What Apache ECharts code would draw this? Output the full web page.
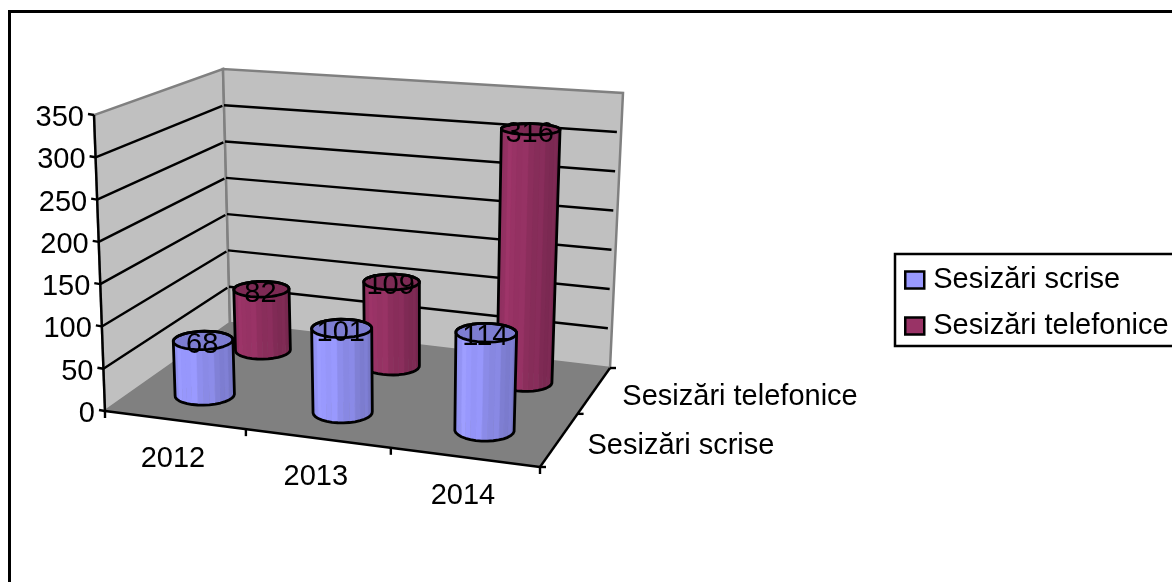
<!DOCTYPE html>
<html><head><meta charset="utf-8">
<style>html,body{margin:0;padding:0;background:#fff;overflow:hidden}#c{width:1172px;height:582px}</style>
<script src="https://cdn.jsdelivr.net/npm/echarts@6/dist/echarts.min.js"></script>
</head><body><div id="c"></div>
<script>
const categories = ['2012', '2013', '2014'];
const seriesNames = ['Sesizări scrise', 'Sesizări telefonice'];
const scrise = [68, 101, 114];
const telefonice = [82, 109, 316];
const valueTicks = [0, 50, 100, 150, 200, 250, 300, 350];

const FONT = '"Liberation Sans", Arial, sans-serif';
const FS = 29;
const G = {left: 105, top: 115, width: 435, height: 296};
// perspective box corners: floor and ceiling planes
const floorQ = [[105, 411], [540, 467], [610, 368], [230, 323]];
const topQ = [[94, 115], [551, 147], [623, 93], [223, 69]];

function homography(q) {
  const [p0, p1, p2, p3] = q;
  const dx1 = p1[0] - p2[0], dx2 = p3[0] - p2[0], sx = p0[0] - p1[0] + p2[0] - p3[0];
  const dy1 = p1[1] - p2[1], dy2 = p3[1] - p2[1], sy = p0[1] - p1[1] + p2[1] - p3[1];
  const den = dx1 * dy2 - dx2 * dy1;
  const g = (sx * dy2 - dx2 * sy) / den, h = (dx1 * sy - sx * dy1) / den;
  const a = p1[0] - p0[0] + g * p1[0], b = p3[0] - p0[0] + h * p3[0], c = p0[0];
  const d = p1[1] - p0[1] + g * p1[1], e = p3[1] - p0[1] + h * p3[1], f = p0[1];
  return (u, v) => {
    const w = g * u + h * v + 1;
    return [(a * u + b * v + c) / w, (d * u + e * v + f) / w];
  };
}
const HF = homography(floorQ), HT = homography(topQ);
// u: 0..1 along categories, d: 0..1 into depth, t: 0..1 up the value axis
function P(u, d, t) {
  const a = HF(u, d), b = HT(u, d);
  return [a[0] + (b[0] - a[0]) * t, a[1] + (b[1] - a[1]) * t];
}
function frac(api, cat, val) {
  const p = api.coord([cat, val]);
  return [(p[0] - G.left) / G.width, (G.top + G.height - p[1]) / G.height];
}
const poly = (points, style, z2) => ({type: 'polygon', z2: z2 || 0, shape: {points}, style});
const line = (a, b, stroke, w, z2) => ({type: 'line', z2: z2 || 0, shape: {x1: a[0], y1: a[1], x2: b[0], y2: b[1]}, style: {stroke, lineWidth: w, fill: null}});
const text = (s, x, y, align, z2) => ({type: 'text', z2: z2 || 0, style: {text: s, x, y, align, verticalAlign: 'middle', fill: '#000', fontSize: FS, fontFamily: FONT}});

function renderFrame(params, api) {
  const c = [];
  const wall = {fill: '#C0C0C0', stroke: '#808080', lineWidth: 2.5};
  c.push(poly([P(0, 0, 0), P(0, 1, 0), P(0, 1, 1), P(0, 0, 1)], wall));
  c.push(poly([P(0, 1, 0), P(1, 1, 0), P(1, 1, 1), P(0, 1, 1)], wall));
  c.push(poly([P(0, 0, 0), P(1, 0, 0), P(1, 1, 0), P(0, 1, 0)], {fill: '#808080', stroke: '#808080', lineWidth: 1}));
  const maxTick = valueTicks[valueTicks.length - 1];
  valueTicks.forEach(v => {
    const t = frac(api, 0, v)[1];
    if (v > 0 && v < maxTick) {
      c.push(line(P(0, 0, t), P(0, 0.985, t), '#000', 2.4, 1));
      c.push(line(P(0, 1.0, t), P(0.99, 1, t), '#000', 2.4, 1));
    }
    const a = P(0, 0, t);
    c.push(line([a[0] - 6, a[1] - 1], a, '#000', 2.4, 2));
    c.push(text(String(v), a[0] - 10, a[1] + 3, 'right', 2));
  });
  c.push(line(P(0, 0, 0), P(0, 0, 1), '#000', 2.4, 2));
  c.push(line(P(0, 0, 0), P(1, 0, 0), '#000', 2.4, 2));
  c.push(line(P(1, 0, 0), P(1, 1, 0), '#000', 2.4, 2));
  for (let i = 0; i <= categories.length; i++) {
    const a = P(i / categories.length, 0, 0);
    c.push(line(a, [a[0], a[1] + 7], '#000', 2.4, 2));
  }
  categories.forEach((name, i) => {
    const a = P((i + 0.5) / categories.length, 0, 0);
    c.push(text(name, a[0] - 2, a[1] + 39, 'center', 2));
  });
  for (let i = 0; i <= seriesNames.length; i++) {
    const a = P(1, i / seriesNames.length, 0);
    c.push(line(a, [a[0] + 6, a[1]], '#000', 2.4, 2));
  }
  seriesNames.forEach((name, i) => {
    const a = P(1, (i + 0.5) / seriesNames.length, 0);
    c.push(text(name, a[0] + 28, a[1] + 7, 'left', 2));
  });
  return {type: 'group', children: c};
}

function hull(pts) {
  const s = pts.slice().sort((a, b) => a[0] - b[0] || a[1] - b[1]);
  const cr = (o, a, b) => (a[0] - o[0]) * (b[1] - o[1]) - (a[1] - o[1]) * (b[0] - o[0]);
  const lo = [], up = [];
  for (const p of s) { while (lo.length > 1 && cr(lo[lo.length - 2], lo[lo.length - 1], p) <= 0) lo.pop(); lo.push(p); }
  for (const p of s.slice().reverse()) { while (up.length > 1 && cr(up[up.length - 2], up[up.length - 1], p) <= 0) up.pop(); up.push(p); }
  return lo.slice(0, -1).concat(up.slice(0, -1));
}

function columnRenderer(depthIndex, rgb) {
  return function (params, api) {
    const catIdx = params.dataIndex;
    const val = api.value(1);
    const f = frac(api, catIdx, val);
    const u0 = f[0] - 0.006, t = f[1];
    const d0 = (depthIndex + 0.5) / seriesNames.length;
    const ru = 0.066, rd = 0.1;
    const N = 32, lo = [], hi = [];
    for (let i = 0; i < N; i++) {
      const th = 2 * Math.PI * i / N;
      const u = u0 + ru * Math.cos(th), d = d0 + rd * Math.sin(th);
      lo.push(P(u, d, 0));
      const h = P(u, d, t);
      hi.push([h[0], h[1] + 1.5]);
    }
    const xs = lo.map(p => p[0]);
    const minX = Math.min(...xs), maxX = Math.max(...xs);
    const shade = m => `rgb(${rgb.map(c => Math.round(Math.min(255, c * m))).join(',')})`;
    const facets = [];
    for (let i = 0; i < N; i++) {
      const j = (i + 1) % N;
      const th = 2 * Math.PI * (i + 0.5) / N;
      const x = (lo[i][0] + lo[j][0]) / 2;
      const p = (x - minX) / (maxX - minX);
      let m = p < 0.2 ? 0.93 + 0.07 * p / 0.2 : 1 - 0.24 * (p - 0.2) / 0.8;
      m *= i % 3 === 0 ? 1.05 : 1;
      facets.push({th, el: poly([lo[i], lo[j], hi[j], hi[i]], {fill: shade(m), stroke: shade(m), lineWidth: 0.5})});
    }
    facets.sort((a, b) => Math.sin(b.th) - Math.sin(a.th));
    const c = facets.map(o => o.el);
    const outline = {fill: null, stroke: '#000', lineWidth: 2.8, lineJoin: 'round'};
    c.push(poly(hi, {fill: shade(0.82), stroke: '#000', lineWidth: 2.8, lineJoin: 'round'}));
    c.push(poly(hull(lo.concat(hi)), outline));
    const top = P(u0, d0, t);
    c.push(text(String(val), top[0] - 1, top[1] + 6, 'center', 3));
    return {type: 'group', children: c};
  };
}

const chart = echarts.init(document.getElementById('c'), null, {renderer: 'canvas'});
chart.setOption({
  animation: false,
  backgroundColor: '#fff',
  grid: {left: G.left, top: G.top, width: G.width, height: G.height, show: false},
  xAxis: {type: 'category', data: categories, show: false},
  yAxis: {type: 'value', min: 0, max: 350, interval: 50, show: false},
  legend: {
    data: seriesNames, left: 895, top: 254, orient: 'vertical', align: 'left',
    padding: [11, 50, 5, 9], itemGap: 16, itemWidth: 19, itemHeight: 17,
    borderColor: '#000', borderWidth: 2.5, selectedMode: false, icon: 'rect',
    itemStyle: {borderColor: '#000', borderWidth: 2.5},
    textStyle: {fontSize: FS, fontFamily: FONT, color: '#000', lineHeight: 30, padding: [0, 0, 0, 4]}
  },
  graphic: [{type: 'rect', silent: true, z: 0, shape: {x: 9.5, y: 11.5, width: 1400, height: 800}, style: {fill: null, stroke: '#000', lineWidth: 3}}],
  series: [
    {type: 'custom', name: 'frame', data: [[0, 0]], renderItem: renderFrame, silent: true, z: 1, clip: false},
    {type: 'custom', name: seriesNames[1], data: telefonice.map((v, i) => [i, v]), encode: {x: 0, y: 1}, renderItem: columnRenderer(1, [153, 51, 102]), itemStyle: {color: '#993366'}, z: 2, silent: true, clip: false},
    {type: 'custom', name: seriesNames[0], data: scrise.map((v, i) => [i, v]), encode: {x: 0, y: 1}, renderItem: columnRenderer(0, [153, 153, 255]), itemStyle: {color: '#9999FF'}, z: 3, silent: true, clip: false}
  ]
});
</script></body></html>
